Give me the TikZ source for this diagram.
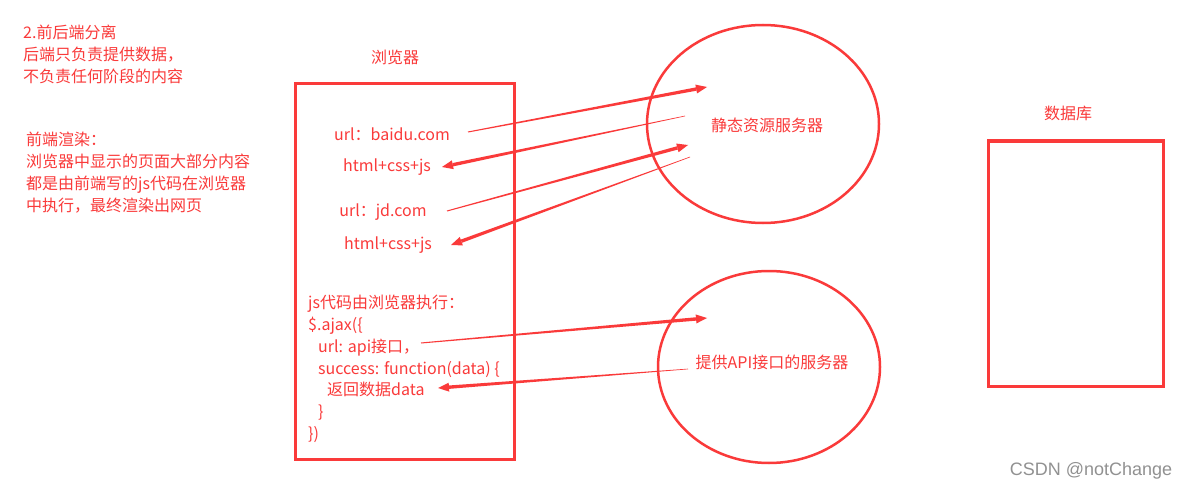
\documentclass[tikz,border=0pt]{standalone}
\usepackage{fontspec}
\usetikzlibrary{calc}
\newfontfamily\cjk{Noto Sans CJK SC}
\newfontfamily\wmfont{Liberation Sans}
\definecolor{myred}{RGB}{250,58,58}
\definecolor{wmgray}{RGB}{145,145,145}
\newcommand\taperarrow[3][0.5]{%
  \coordinate (th) at ($(#3)!11pt!(#2)$);
  \fill[myred] ($(#2)!#1pt!90:(#3)$) -- ($(th)!1.7pt!-90:(#2)$) -- ($(th)!1.7pt!90:(#2)$) -- ($(#2)!#1pt!-90:(#3)$) -- cycle;
  \fill[myred] (#3) -- ($(th)!4.5pt!90:(#3)$) -- ($(th)!4.5pt!-90:(#3)$) -- cycle;
}
\tikzset{
  txt/.style={font=\cjk\fontsize{16}{21.8}\selectfont, text=myred, inner sep=0pt},
  blk/.style={txt, align=left, anchor=north west},
  box/.style={draw=myred, line width=3pt},
  circ/.style={draw=myred, line width=2.5pt},
}
\begin{document}
\begin{tikzpicture}[x=1pt,y=-1pt]
\useasboundingbox[fill=white] (0,0) rectangle (1188,492);

% left notes
\node[blk] (note1) at (23,25) {2.前后端分离\\后端只负责提供数据，\\不负责任何阶段的内容};
\node[blk] (note2) at (26,132) {前端渲染：\\浏览器中显示的页面大部分内容\\都是由前端写的js代码在浏览器\\中执行，最终渲染出网页};

% browser
\node[txt] (blabel) at (395,57) {浏览器};
\draw[box] (295,84) rectangle (514,459);
\node[txt] (baidu) at (392,134) {url：baidu.com};
\node[txt] (html1) at (387,167) {html+css+js};
\node[txt] (jd) at (383,212) {url：jd.com};
\node[txt] (html2) at (388,245) {html+css+js};
\node[blk] (js) at (308,295) {js代码由浏览器执行：\\\$.ajax(\{\\\hspace{10pt}url: api接口，\\\hspace{10pt}success: function(data) \{\\\hspace{19pt}返回数据data\\\hspace{10pt}\}\\\})};

% servers
\draw[circ] (763,124) ellipse [x radius=116, y radius=99];
\node[txt] (static) at (767,125) {静态资源服务器};
\draw[circ] (769,367) ellipse [x radius=111, y radius=96];
\node[txt] (api) at (772,362) {提供API接口的服务器};

% database
\node[txt] (dblabel) at (1068,113) {数据库};
\draw[box] (988,141) rectangle (1163,386);

% arrow end points
\coordinate (a1s) at (468,132); \coordinate (a1e) at (707,87);
\coordinate (a2s) at (685,116); \coordinate (a2e) at (442,167);
\coordinate (a3s) at (447,211); \coordinate (a3e) at (688,145);
\coordinate (a4s) at (690,157); \coordinate (a4e) at (451,245);
\coordinate (a5s) at (421,343); \coordinate (a5e) at (707,318);
\coordinate (a6s) at (688,369); \coordinate (a6e) at (438,388);
\taperarrow{a1s}{a1e}
\taperarrow[0.3]{a2s}{a2e}
\taperarrow{a3s}{a3e}
\taperarrow[0.3]{a4s}{a4e}
\taperarrow{a5s}{a5e}
\taperarrow[0.3]{a6s}{a6e}

% watermark
\node[font=\wmfont\fontsize{18}{21}\selectfont, text=wmgray, inner sep=0pt] (wm) at (1091,471) {CSDN @notChange};
\end{tikzpicture}
\end{document}
